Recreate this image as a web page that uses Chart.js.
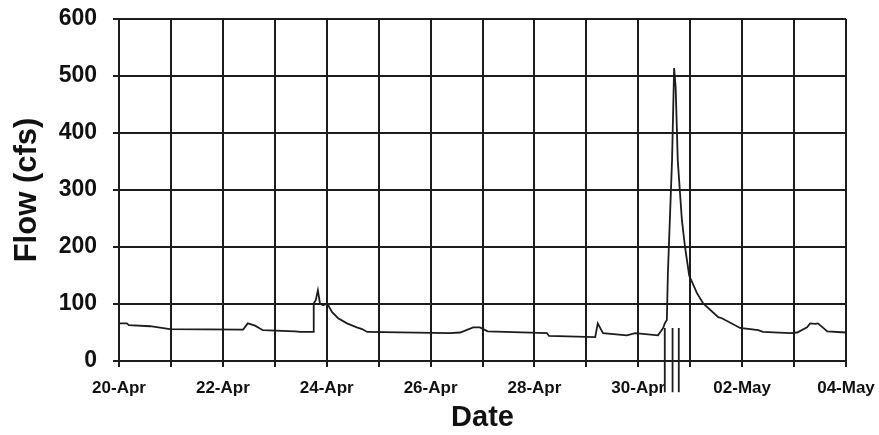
<!DOCTYPE html>
<html>
<head>
<meta charset="utf-8">
<script src="https://cdn.jsdelivr.net/npm/chart.js@4.4.1/dist/chart.umd.min.js"></script>
<style>
  html, body { margin: 0; padding: 0; background: #fff; }
  #wrap { width: 879px; height: 435px; }
</style>
</head>
<body>
<div id="wrap"><canvas id="flowChart" width="879" height="435"></canvas></div>
<script>
// days since 20-Apr
const flowDays = [0.00, 0.15, 0.19, 0.60, 0.98, 2.39, 2.48, 2.62, 2.77, 3.39, 3.49, 3.74, 3.75, 3.79, 3.83,
  3.87, 3.93, 4.01, 4.10, 4.22, 4.39, 4.58, 4.68, 4.78, 6.37, 6.57, 6.82, 6.95, 7.10, 8.24, 8.28, 9.17,
  9.22, 9.32, 9.78, 9.94, 10.38, 10.48, 10.51, 10.55, 10.57, 10.65, 10.69, 10.72, 10.76, 10.84, 10.90,
  10.98, 11.13, 11.25, 11.54, 11.61, 11.96, 12.31, 12.40, 12.92, 13.06, 13.25, 13.31, 13.41, 13.46,
  13.64, 14.00];
const flowCfs = [66, 66, 63, 61, 56, 55, 66, 62, 54, 52, 51, 51, 101, 107, 124,
  101, 98, 101, 86, 75, 66, 59, 56, 51, 49, 50, 59, 59, 52, 49, 44, 42,
  66, 49, 45, 49, 45, 58, 66, 72, 154, 352, 514, 480, 352, 247, 200,
  150, 119, 101, 77, 75, 58, 54, 51, 49, 50, 59, 66, 65, 66,
  52, 50];
const xTickLabels = ['20-Apr', '22-Apr', '24-Apr', '26-Apr', '28-Apr', '30-Apr', '02-May', '04-May'];
const markerDays = [10.51, 10.66, 10.78];
const markerTop = 58;
const markerBottom = -55;

const flowPoints = flowDays.map((d, i) => ({ x: d, y: flowCfs[i] }));
let markerPoints = [];
for (let d of markerDays) {
    markerPoints.push({ x: d, y: markerTop }, { x: d, y: markerBottom }, { x: d, y: null });
}

const ink = '#1c1c1c';
const font = 'Liberation Sans, Arial, sans-serif';

new Chart(document.getElementById('flowChart').getContext('2d'), {
    type: 'line',
    data: {
        datasets: [{
            label: 'Flow',
            data: flowPoints,
            borderColor: ink,
            borderWidth: 1.8,
            pointRadius: 0,
            tension: 0,
            fill: false
        }, {
            label: 'markers',
            data: markerPoints,
            borderColor: ink,
            borderWidth: 1.8,
            pointRadius: 0,
            spanGaps: false,
            clip: false
        }]
    },
    options: {
        responsive: false,
        animation: false,
        layout: { autoPadding: false, padding: { top: 19, right: 33, left: 4, bottom: 0 } },
        plugins: { legend: { display: false }, tooltip: { enabled: false } },
        scales: {
            x: {
                type: 'linear',
                min: 0,
                max: 14,
                afterFit: function(s) {
                    s.height = 74;
                    s.paddingLeft = 0;
                    s.paddingRight = 0;
                },
                border: { display: true, color: ink, width: 2 },
                grid: { color: ink, lineWidth: 2, tickLength: 6, tickColor: ink },
                ticks: {
                    stepSize: 1,
                    autoSkip: false,
                    maxRotation: 0,
                    color: '#111',
                    padding: 11,
                    font: { family: font, size: 17, weight: 'bold' },
                    callback: function(v) {
                        return v % 2 === 0 ? xTickLabels[v / 2] : '';
                    }
                },
                title: {
                    display: true,
                    text: 'Date',
                    color: '#111',
                    padding: { top: 0, bottom: 0 },
                    font: { family: font, size: 29, weight: 'bold' }
                }
            },
            y: {
                min: 0,
                max: 600,
                afterFit: function(s) {
                    s.width = 115;
                    s.paddingTop = 0;
                    s.paddingBottom = 0;
                },
                border: { display: true, color: ink, width: 2 },
                grid: {
                    color: ink,
                    lineWidth: 2,
                    tickLength: 6,
                    tickColor: function(c) {
                        return c.tick && c.tick.value % 100 === 0 ? ink : 'rgba(0,0,0,0)';
                    }
                },
                ticks: {
                    stepSize: 50,
                    color: '#111',
                    padding: 16,
                    font: { family: font, size: 23, weight: 'bold' },
                    callback: function(v) {
                        return v % 100 === 0 ? v : '';
                    }
                },
                title: {
                    display: true,
                    text: 'Flow (cfs)',
                    color: '#111',
                    padding: { top: 5, bottom: 0 },
                    font: { family: font, size: 31, weight: 'bold' }
                }
            }
        }
    }
});
</script>
</body>
</html>
